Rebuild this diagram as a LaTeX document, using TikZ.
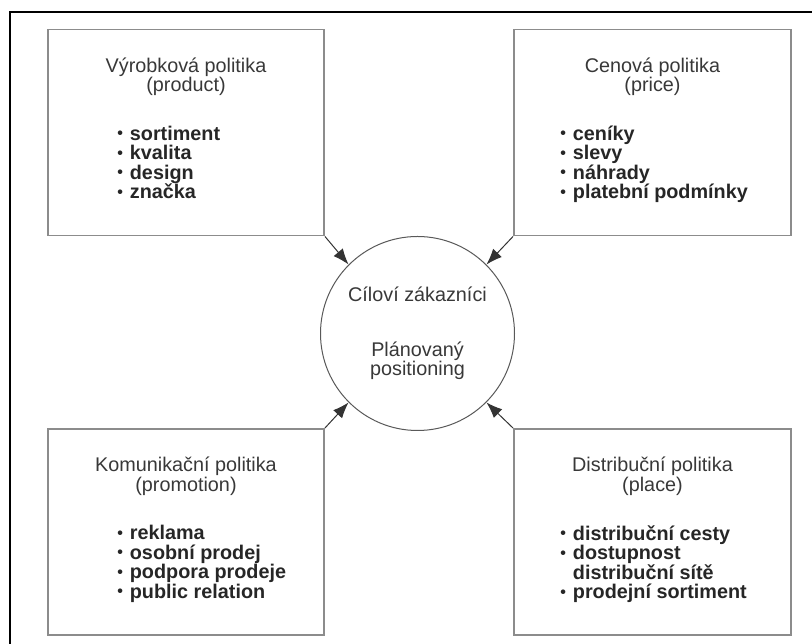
\documentclass[tikz,border=0pt]{standalone}
\usepackage{fontspec}
\setmainfont{Liberation Sans}
\usepackage{tikz}
\usetikzlibrary{positioning,arrows.meta}
\definecolor{boxgray}{gray}{0.55}
\definecolor{txtgray}{gray}{0.22}
\def\bul{\raisebox{1.5pt}{\fontsize{16}{16}\selectfont\textbullet}\hspace{7pt}}

\begin{document}
\begin{tikzpicture} [x=1pt, y=1pt,
    pbox/.style={draw=boxgray, line width=1.8pt, minimum width=276pt, minimum height=206pt, inner sep=0pt},
    ptitle/.style={align=center, inner sep=0pt, text=txtgray, font=\fontsize{19.8}{19.5}\selectfont},
    plist/.style={align=left, inner sep=0pt, text=black!85, font=\fontsize{19.8}{19.5}\selectfont\bfseries},
    goal/.style={circle, draw=black!65, line width=1pt, minimum size=194pt, inner sep=0pt, align=center, text=txtgray, font=\fontsize{19.8}{19.5}\selectfont},
    arr/.style={-{Latex[length=16pt,width=12pt]}, draw=black!80, line width=1pt}
  ]
    \useasboundingbox (0,0) rectangle (812,644);
    % outer frame (top and left only)
    \draw[line width=2.4pt] (10,0) -- (10,632) -- (812,632);

    \node[goal] (goal) at (417.5,310.5) {C\'{\i}lov\'{\i} z\'akazn\'{\i}ci\\[35pt]Pl\'anovan\'y\\positioning};

    \node[pbox] (prod) at (186,511.5) {};
    \node[pbox, minimum width=277pt] (price) at (652.5,511.5) {};
    \node[pbox] (prom) at (186,112) {};
    \node[pbox, minimum width=277pt] (place) at (652.5,112) {};

    \node[ptitle, below=29pt of prod.north] (prodt) {Výrobková politika\\(product)};
    \node[ptitle, below=29pt of price.north] (pricet) {Cenová politika\\(price)};
    \node[ptitle, below=29pt of prom.north] (promt) {Komunikační politika\\(promotion)};
    \node[ptitle, below=29pt of place.north] (placet) {Distribuční politika\\(place)};

    \node[plist, below right=97pt and 70pt of prod.north west] (prodl)
      {\bul sortiment\\ \bul kvalita\\ \bul design\\ \bul značka};
    \node[plist, below right=97pt and 47pt of price.north west] (pricel)
      {\bul ceníky\\ \bul slevy\\ \bul náhrady\\ \bul platební podmínky};
    \node[plist, below right=97pt and 70pt of prom.north west] (proml)
      {\bul reklama\\ \bul osobní prodej\\ \bul podpora prodeje\\ \bul public relation};
    \node[plist, below right=97pt and 47pt of place.north west] (placel)
      {\bul distribuční cesty\\ \bul dostupnost\\ \phantom{\bul}distribuční sítě\\ \bul prodejní sortiment};

    \draw[arr] (prod.south east) -- (goal.135);
    \draw[arr] (price.south west) -- (goal.45);
    \draw[arr] (prom.north east) -- (goal.-135);
    \draw[arr] (place.north west) -- (goal.-45);
\end{tikzpicture}
\end{document}
